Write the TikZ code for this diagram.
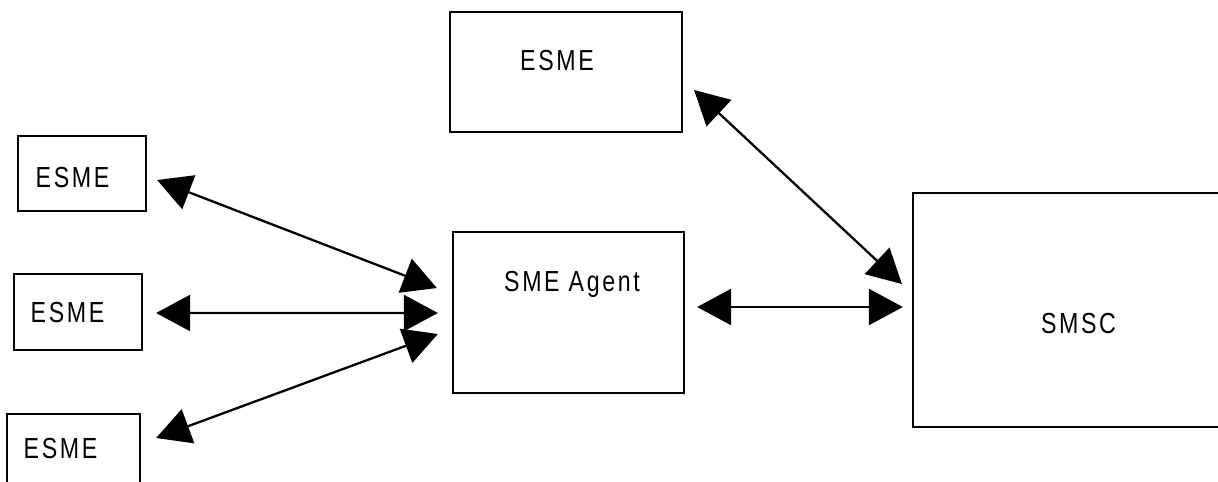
\documentclass[tikz,border=0pt]{standalone}
\usepackage{fontspec}
\newfontfamily\diafont[FakeStretch=0.8,LetterSpace=9]{Liberation Sans}
\usetikzlibrary{arrows.meta}

\begin{document}
\begin{tikzpicture}[x=0.02cm,y=-0.02cm,
  box/.style={draw,line width=1.3pt,inner sep=0pt},
  txt/.style={font=\diafont\fontsize{16.5}{19}\selectfont,anchor=base,inner sep=0pt},
  link/.style={line width=1.3pt,{Triangle[length=0.68cm,width=0.72cm]}-{Triangle[length=0.68cm,width=0.72cm]}}]
\useasboundingbox (0,0) rectangle (1218,481);
\clip (0,0) rectangle (1218,481);

\node[box,minimum width=4.64cm,minimum height=2.4cm] (esmeTop) at (566,72) {};
\node[box,minimum width=2.56cm,minimum height=1.5cm] (esmeA) at (82,173.5) {};
\node[box,minimum width=2.56cm,minimum height=1.52cm] (esmeB) at (78,312) {};
\node[box,minimum width=2.66cm,minimum height=1.6cm] (esmeC) at (73.5,454) {};
\node[box,minimum width=4.62cm,minimum height=3.22cm] (agent) at (568.5,312.5) {};
\node[box,minimum width=6.34cm,minimum height=4.68cm] (smsc) at (1071.5,310) {};

\node[txt] (esmeTop-t) at (557,70) {ESME};
\node[txt] (esmeA-t) at (72.5,187) {ESME};
\node[txt] (esmeB-t) at (67.5,322) {ESME};
\node[txt] (esmeC-t) at (60.5,458) {ESME};
\node[txt] (agent-t) at (572,291) {SME Agent};
\node[txt] (smsc-t) at (1078.5,333) {SMSC};

\draw[link] ([shift={(10,6.5)}]esmeA.east) -- ([shift={(-15,-24.5)}]agent.west);
\draw[link] ([shift={(13,1)}]esmeB.east) -- ([shift={(-14,0.5)}]agent.west);
\draw[link] ([shift={(15,-16)}]esmeC.east) -- ([shift={(-14,21.5)}]agent.west);
\draw[link] ([shift={(11,18)}]esmeTop.east) -- ([shift={(-10,-26)}]smsc.west);
\draw[link] ([shift={(12,-5.5)}]agent.east) -- ([shift={(-9,-3)}]smsc.west);
\end{tikzpicture}
\end{document}
